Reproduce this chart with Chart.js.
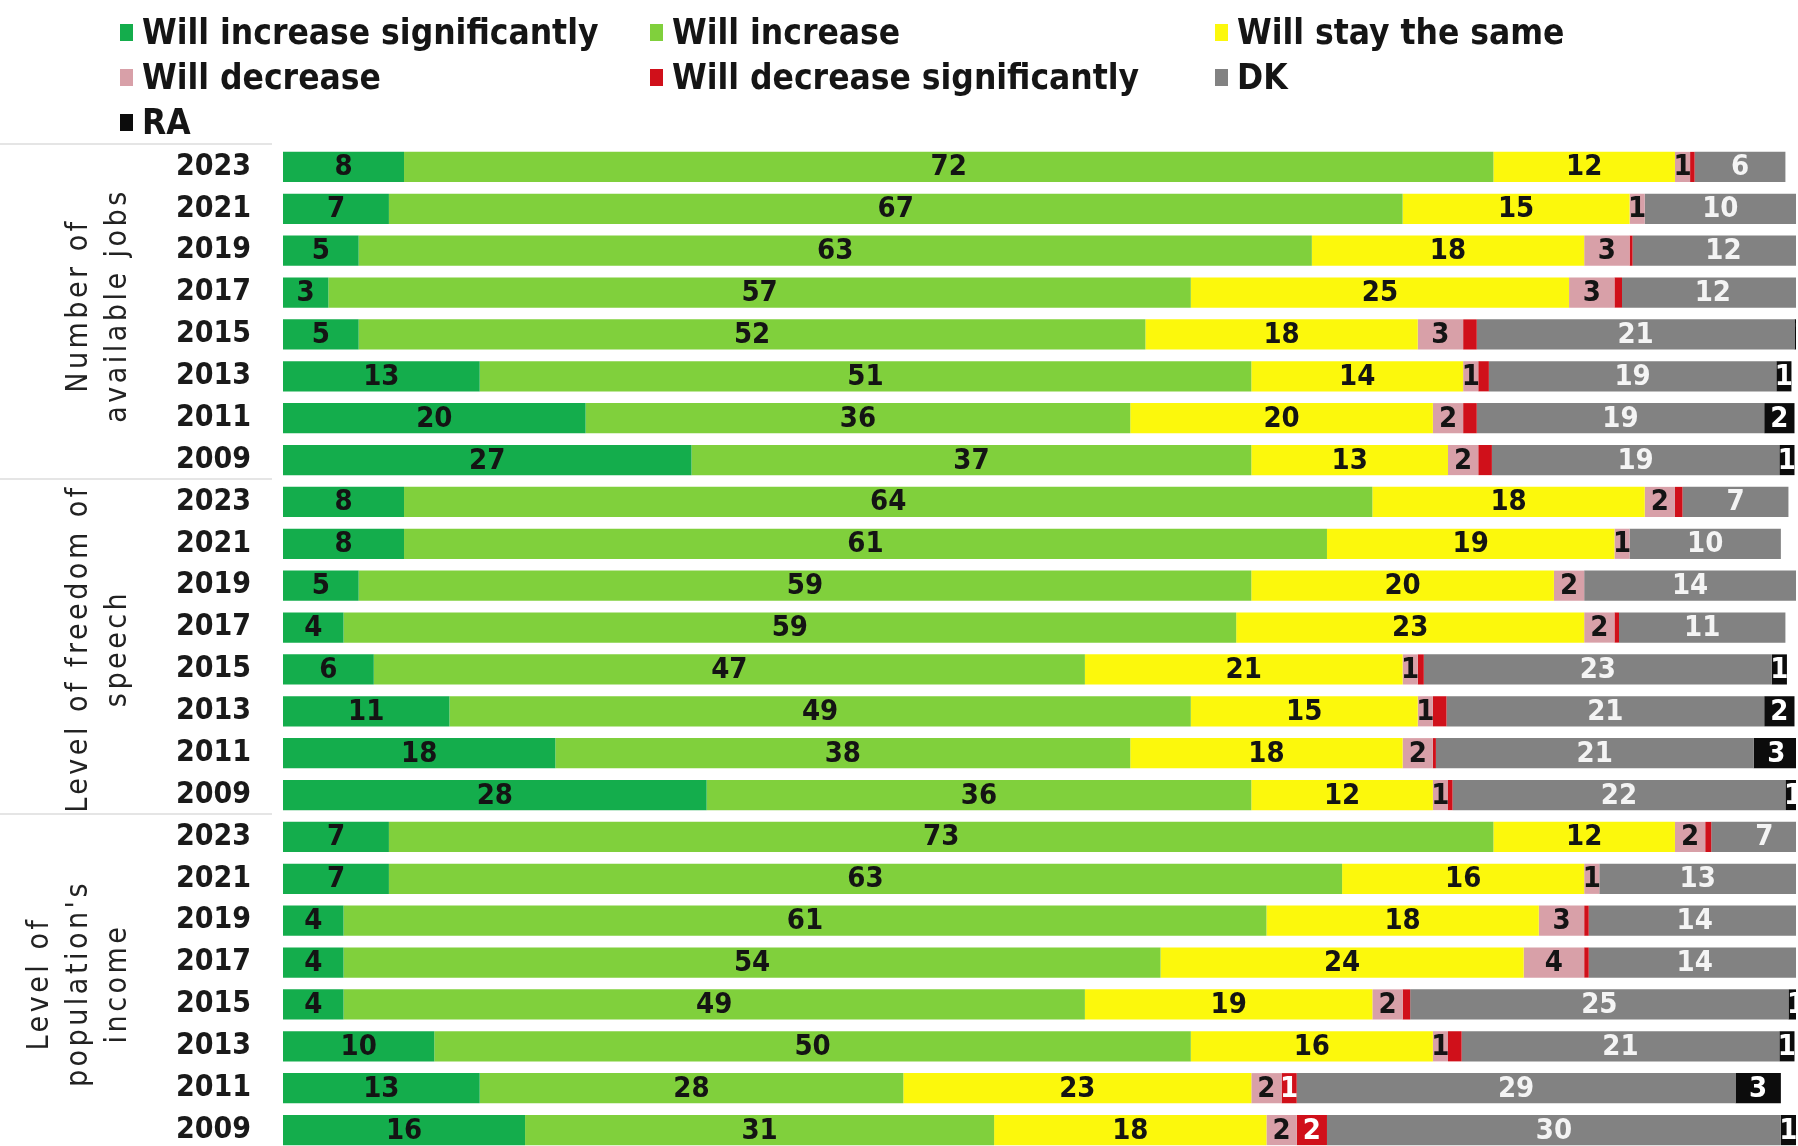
<!DOCTYPE html>
<html>
<head>
<meta charset="utf-8">
<script src="https://cdn.jsdelivr.net/npm/chart.js@4.4.1/dist/chart.umd.min.js"></script>
<style>
    html, body { margin: 0; padding: 0; background: #fff; overflow: hidden; }
    #wrap { position: relative; width: 1798px; height: 1146px; overflow: hidden; }
    #chart { position: absolute; left: 0; top: 0; }
    #legend { position: absolute; left: 0; top: 0; width: 1798px; height: 140px; }
    .item { position: absolute; display: flex; align-items: center; font-weight: bold; font-size: 35px;
            color: #151515; white-space: nowrap; transform: translateY(-50%); }
    .box { width: 13px; height: 17px; margin-right: 9px; }
</style>
</head>
<body>
<div id="wrap">
    <canvas id="chart" width="1798" height="1169"></canvas>
    <div id="legend"></div>
</div>
<script>
const FONT = '"Liberation Sans Narrow", "DejaVu Sans Condensed", "Noto Sans", sans-serif';

const years = ['2023', '2021', '2019', '2017', '2015', '2013', '2011', '2009'];
const groupTitles = [['Number of', 'available jobs'], ['Level of freedom of', 'speech'], ['Level of', "population's", 'income']];

// jobs (8), freedom of speech (8), income (8)
const increaseSig = [8, 7, 5, 3, 5, 13, 20, 27,   8, 8, 5, 4, 6, 11, 18, 28,   7, 7, 4, 4, 4, 10, 13, 16];
const increase    = [72, 67, 63, 57, 52, 51, 36, 37,   64, 61, 59, 59, 47, 49, 38, 36,   73, 63, 61, 54, 49, 50, 28, 31];
const stayTheSame = [12, 15, 18, 25, 18, 14, 20, 13,   18, 19, 20, 23, 21, 15, 18, 12,   12, 16, 18, 24, 19, 16, 23, 18];
const decrease    = [1, 1, 3, 3, 3, 1, 2, 2,   2, 1, 2, 2, 1, 1, 2, 1,   2, 1, 3, 4, 2, 1, 2, 2];
const decreaseSig = [0.3, 0, 0.2, 0.5, 0.9, 0.7, 0.9, 0.9,   0.5, 0, 0, 0.3, 0.4, 0.9, 0.2, 0.3,   0.4, 0, 0.3, 0.3, 0.5, 0.9, 1, 2];
const dontKnow    = [6, 10, 12, 12, 21, 19, 19, 19,   7, 10, 14, 11, 23, 21, 21, 22,   7, 13, 14, 14, 25, 21, 29, 30];
const refused     = [0, 0, 0, 0, 1, 1, 2, 1,   0, 0, 0, 0, 1, 2, 3, 1,   0, 0, 0, 0, 1, 1, 3, 1];

const seriesNames = ['Will increase significantly', 'Will increase', 'Will stay the same',
    'Will decrease', 'Will decrease significantly', 'DK', 'RA'];
const seriesColors = ['#14ad4c', '#80d03c', '#fcf80c', '#d8a0a8', '#d0101a', '#828282', '#0c0c0c'];
const labelColors = ['#141414', '#141414', '#141414', '#141414', '#ffffff', '#f4f4f4', '#ffffff'];
const seriesData = [increaseSig, increase, stayTheSame, decrease, decreaseSig, dontKnow, refused];

const labels = [];
for (let g = 0; g < 3; g++) labels.push(...years);

const datasets = seriesNames.map((name, i) => ({
    label: name,
    data: seriesData[i],
    backgroundColor: seriesColors[i],
    labelColor: labelColors[i],
    borderWidth: 0,
    barPercentage: 0.72,
    categoryPercentage: 1
}));

const valueLabels = {
    id: 'valueLabels',
    afterDatasetsDraw(chart) {
        const ctx = chart.ctx;
        ctx.save();
        ctx.font = 'bold 29px ' + FONT;
        ctx.textAlign = 'center';
        ctx.textBaseline = 'middle';
        chart.data.datasets.forEach((ds, i) => {
            const meta = chart.getDatasetMeta(i);
            meta.data.forEach((bar, j) => {
                const v = ds.data[j];
                if (v < 1) return;
                const p = bar.getProps(['x', 'base', 'y'], true);
                ctx.fillStyle = ds.labelColor;
                ctx.fillText(String(v), (p.x + p.base) / 2, p.y + 1);
            });
        });
        ctx.restore();
    }
};

const groupLabels = {
    id: 'groupLabels',
    afterDraw(chart) {
        const ys = chart.scales.y;
        const ctx = chart.ctx;
        const step = ys.getPixelForValue(1) - ys.getPixelForValue(0);
        ctx.save();
        ctx.font = '30px ' + FONT;
        ctx.fillStyle = '#222';
        ctx.textAlign = 'center';
        ctx.textBaseline = 'middle';
        ctx.letterSpacing = '3.5px';
        groupTitles.forEach((lines, g) => {
            const top = ys.getPixelForValue(g * 8);
            const bottom = ys.getPixelForValue(g * 8 + 7);
            const cy = (top + bottom) / 2 - (g === 0 ? 8 : 0);
            lines.forEach((line, k) => {
                const cx = 118 - (lines.length - 1 - k) * 39;
                ctx.save();
                ctx.translate(cx, cy);
                ctx.rotate(-Math.PI / 2);
                ctx.fillText(line, 0, 0);
                ctx.restore();
            });
            const yLine = top - step / 2 - 2;
            ctx.strokeStyle = '#dddddd';
            ctx.lineWidth = 1.5;
            ctx.beginPath();
            ctx.moveTo(0, yLine);
            ctx.lineTo(272, yLine);
            ctx.stroke();
        });
        ctx.restore();
    }
};

const chart = new Chart(document.getElementById('chart'), {
    type: 'bar',
    data: { labels: labels, datasets: datasets },
    options: {
        indexAxis: 'y',
        responsive: false,
        animation: false,
        layout: { padding: { top: 146, right: 2, bottom: 0, left: 0 } },
        scales: {
            x: { stacked: true, min: 0, max: 100, display: false },
            y: {
                stacked: true,
                // invisible tick marks keep the year labels off the bars
                grid: { display: true, drawOnChartArea: false, drawTicks: true, tickLength: 32, tickColor: 'rgba(0,0,0,0)' },
                border: { display: false },
                ticks: {
                    color: '#1a1a1a',
                    padding: 0,
                    font: { family: FONT, size: 30, weight: 'bold' }
                },
                afterFit(scale) { scale.width = 283; }
            }
        },
        plugins: {
            legend: { display: false },
            tooltip: { enabled: false }
        }
    },
    plugins: [valueLabels, groupLabels]
});

// legend in three columns, built from the datasets
const legendEl = document.getElementById('legend');
const colX = [120, 650, 1215];
const rowY = [32, 77, 122];
chart.data.datasets.forEach((ds, i) => {
    const item = document.createElement('div');
    item.className = 'item';
    item.style.left = colX[i % 3] + 'px';
    item.style.top = rowY[Math.floor(i / 3)] + 'px';
    item.style.fontFamily = FONT;
    const box = document.createElement('span');
    box.className = 'box';
    box.style.background = ds.backgroundColor;
    const txt = document.createElement('span');
    txt.textContent = ds.label;
    item.appendChild(box);
    item.appendChild(txt);
    legendEl.appendChild(item);
});
</script>
</body>
</html>
